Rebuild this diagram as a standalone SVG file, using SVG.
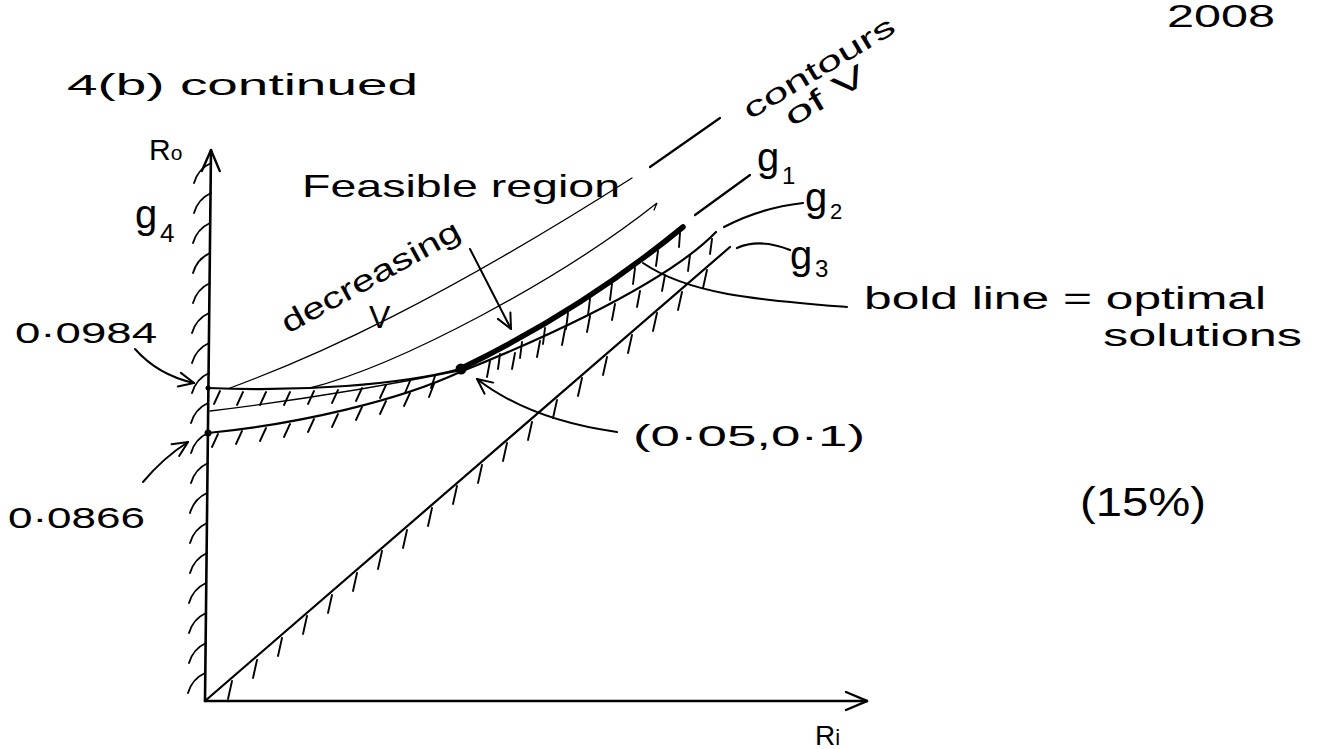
<svg xmlns="http://www.w3.org/2000/svg" width="1321" height="749" viewBox="0 0 1321 749">
<defs>
<style>
.ax{stroke:#000;stroke-width:2.6;fill:none;stroke-linecap:round}
.g{stroke:#000;stroke-width:2.2;fill:none;stroke-linecap:round}
.c{stroke:#000;stroke-width:1.3;fill:none;stroke-linecap:round}
.h{stroke:#000;stroke-width:1.9;fill:none;stroke-linecap:round}
.a{stroke:#000;stroke-width:2;fill:none;stroke-linecap:round}
.bold{stroke:#000;stroke-width:5.5;fill:none;stroke-linecap:round}
text{font-family:"Liberation Sans",Arial,sans-serif;fill:#000}
</style>
<marker id="big" viewBox="0 0 24 24" refX="23" refY="12" markerWidth="24" markerHeight="24" markerUnits="userSpaceOnUse" orient="auto">
<path d="M2,3 L23,12 L2,21" fill="none" stroke="#000" stroke-width="2.4" stroke-linecap="round"/>
</marker>
<marker id="sm" viewBox="0 0 18 18" refX="17" refY="9" markerWidth="18" markerHeight="18" markerUnits="userSpaceOnUse" orient="auto">
<path d="M2,2 L17,9 L2,16" fill="none" stroke="#000" stroke-width="2" stroke-linecap="round"/>
</marker>
</defs>
<rect x="0" y="0" width="1321" height="749" fill="#fff"/>

<g id="axes">
<line class="ax" x1="205" y1="701" x2="211" y2="150" marker-end="url(#big)"/>
<line class="ax" x1="205" y1="701" x2="867" y2="701" marker-end="url(#big)"/>
<text x="149" y="160" font-size="30">R<tspan font-size="21">o</tspan></text>
<text x="815" y="745" font-size="28">R<tspan font-size="22">i</tspan></text>
</g>

<g id="g4">
<path class="h" d="M194,183 Q198,169 211,163 M194,213 Q198,199 211,193 M193,243 Q197,229 210,223 M193,273 Q197,259 210,253 M193,303 Q197,289 210,283 M192,333 Q196,319 209,313 M192,363 Q196,349 209,343 M192,393 Q196,379 209,373 M191,423 Q195,409 208,403 M191,453 Q195,439 208,433 M191,483 Q195,469 208,463 M190,513 Q194,499 207,493 M190,543 Q194,529 207,523 M190,573 Q194,559 207,553 M189,603 Q193,589 206,583 M189,633 Q193,619 206,613 M189,663 Q193,649 206,643 M188,693 Q192,679 205,673"/>
<text x="135" y="228" font-size="40">g<tspan x="160" y="242" font-size="26">4</tspan></text>
</g>

<g id="g1">
<path class="g" d="M208,388 C300,392 400,385 460,369 C520,340 600,295 683,227"/>
<path class="bold" d="M462,368 C520,340 600,295 683,227"/>
<path class="g" d="M695,215 L750,175"/>
<path class="h" d="M220,391 L214,404 M243,392 L237,405 M266,392 L260,405 M290,392 L284,405 M314,391 L308,404 M338,390 L332,403 M362,388 L356,401 M386,385 L380,398 M410,381 L405,393 M435,376 L431,388 M500,354 L498,369 M522,342 L520,358 M545,328 L543,344 M568,313 L566,329 M590,299 L588,315 M612,284 L610,300 M635,268 L633,284 M658,251 L656,266 M680,233 L679,247"/>
<circle cx="208" cy="388" r="2.5" fill="#000"/>
<text x="757" y="171" font-size="40">g<tspan x="782" y="184" font-size="24">1</tspan></text>
</g>

<g id="g2">
<path class="g" d="M208,433 C300,424 400,400 460,372 C510,352 660,290 716,232"/>
<path class="g" d="M724,227 Q760,208 803,203"/>
<path class="h" d="M218,434 L212,447 M242,431 L236,444 M266,428 L260,441 M290,424 L284,437 M314,419 L308,432 M338,414 L332,427 M362,407 L356,420 M386,401 L380,414 M410,393 L404,406 M434,384 L429,397 M490,361 L487,377 M515,353 L512,369 M540,341 L537,357 M565,329 L562,345 M590,316 L587,332 M615,304 L612,320 M640,291 L637,307 M665,275 L662,291 M690,255 L688,271 M712,239 L710,254"/>
<circle cx="208" cy="433" r="3.5" fill="#000"/>
<text x="805" y="211" font-size="40">g<tspan x="830" y="219" font-size="22">2</tspan></text>
</g>

<g id="g3">
<path class="g" d="M205,701 L730,247"/>
<path class="g" d="M737,248 Q760,238 790,250"/>
<path class="h" d="M232,681 L228,699 M257,660 L253,678 M282,638 L278,656 M307,616 L303,634 M332,595 L328,613 M357,573 L353,591 M382,551 L378,569 M407,530 L403,548 M432,508 L428,526 M457,486 L453,504 M482,465 L478,483 M507,443 L503,461 M532,422 L528,440 M557,400 L553,418 M582,378 L578,396 M607,357 L603,375 M632,335 L628,353 M657,313 L653,331 M682,292 L678,310 M707,270 L703,288"/>
<text x="790" y="269" font-size="40">g<tspan x="815" y="277" font-size="24">3</tspan></text>
</g>

<g id="contours">
<path class="c" d="M210,411 Q340,395 458,371"/>
<path class="c" d="M310,388 C400,365 560,280 657,203 L654,210"/>
<path class="c" d="M230,388 C320,355 440,300 632,178"/>
<path class="g" d="M650,167 L720,118"/>
<g transform="translate(750,120) rotate(-31)">
<text x="0" y="0" font-size="28" textLength="172" lengthAdjust="spacingAndGlyphs">contours</text>
<text x="32" y="28" font-size="30" textLength="90" lengthAdjust="spacingAndGlyphs">of V</text>
</g>
</g>

<g id="optimum">
<circle cx="461" cy="369" r="5.5" fill="#000"/>
<path class="a" d="M617,432 Q530,420 477,379" marker-end="url(#sm)"/>
<text x="633" y="446" font-size="30" textLength="232" lengthAdjust="spacingAndGlyphs">(0·05,0·1)</text>
</g>

<g id="annotations">
<text x="67" y="95" font-size="30" textLength="351" lengthAdjust="spacingAndGlyphs">4(b) continued</text>
<text x="1167" y="27" font-size="32" textLength="108" lengthAdjust="spacingAndGlyphs">2008</text>
<text x="302" y="197" font-size="32" textLength="318" lengthAdjust="spacingAndGlyphs">Feasible region</text>
<text transform="translate(288,334) rotate(-29)" font-size="30" textLength="200" lengthAdjust="spacingAndGlyphs">decreasing</text>
<text x="369" y="328" font-size="32">V</text>
<path class="a" d="M470,249 L511,329" marker-end="url(#sm)"/>
<text x="15" y="343" font-size="30" textLength="142" lengthAdjust="spacingAndGlyphs">0·0984</text>
<path class="a" d="M135,349 Q158,375 194,383" marker-end="url(#sm)"/>
<text x="8" y="528" font-size="30" textLength="137" lengthAdjust="spacingAndGlyphs">0·0866</text>
<path class="a" d="M143,482 Q163,458 188,442" marker-end="url(#sm)"/>
<path class="a" d="M643,263 C690,295 760,300 847,307"/>
<text x="864" y="309" font-size="31" textLength="402" lengthAdjust="spacingAndGlyphs">bold line = optimal</text>
<text x="1103" y="346" font-size="31" textLength="199" lengthAdjust="spacingAndGlyphs">solutions</text>
<text x="1080" y="516" font-size="40" textLength="126" lengthAdjust="spacingAndGlyphs">(15%)</text>
</g>
</svg>
